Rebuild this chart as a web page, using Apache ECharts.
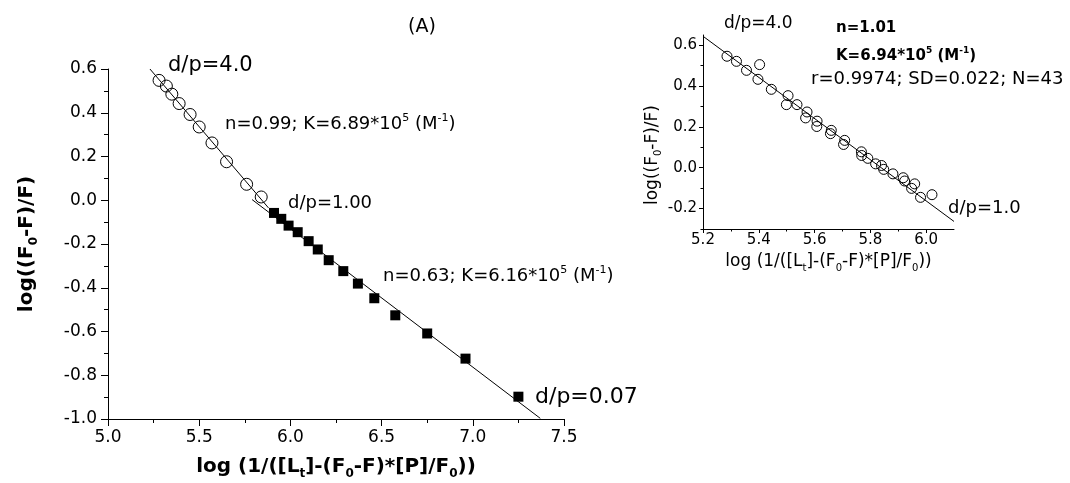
<!DOCTYPE html>
<html><head><meta charset="utf-8">
<script src="https://cdn.jsdelivr.net/npm/echarts@6/dist/echarts.min.js"></script>
<style>html,body{margin:0;padding:0;background:#fff}#c{width:1070px;height:483px}</style>
</head><body><div id="c"></div>
<script>
// ---------- main panel data ----------
const circX = [5.28, 5.32, 5.35, 5.39, 5.45, 5.50, 5.57, 5.65, 5.76, 5.84];
const circY = [0.548, 0.522, 0.485, 0.442, 0.392, 0.335, 0.262, 0.176, 0.073, 0.015];
const sqX = [5.91, 5.95, 5.99, 6.04, 6.10, 6.15, 6.21, 6.29, 6.37, 6.46, 6.575, 6.75, 6.96, 7.25];
const sqY = [-0.058, -0.085, -0.116, -0.146, -0.187, -0.225, -0.274, -0.324, -0.381, -0.448, -0.526, -0.609, -0.724, -0.898];
const fit1X = [5.23, 5.88];
const fit1Y = [0.60, -0.035];
const fit2X = [5.79, 7.37];
const fit2Y = [0.003, -0.997];
// ---------- inset data ----------
const inX = [5.286, 5.320, 5.356, 5.403, 5.397, 5.445, 5.505, 5.499, 5.537, 5.573, 5.568, 5.609, 5.608, 5.660, 5.657, 5.708, 5.704, 5.768, 5.769, 5.791, 5.819, 5.840, 5.848, 5.881, 5.918, 5.923, 5.959, 5.948, 5.980, 6.021];
const inY = [0.546, 0.521, 0.477, 0.505, 0.433, 0.384, 0.353, 0.309, 0.309, 0.273, 0.244, 0.228, 0.202, 0.183, 0.167, 0.134, 0.114, 0.078, 0.060, 0.046, 0.019, 0.011, -0.008, -0.030, -0.049, -0.065, -0.079, -0.101, -0.145, -0.132];
const fitInX = [5.2, 6.1];
const fitInY = [0.644, -0.263];
// ---------- tick labels ----------
const mainXTicks = [5.0, 5.5, 6.0, 6.5, 7.0, 7.5];
const mainYTicks = [-1.0, -0.8, -0.6, -0.4, -0.2, 0.0, 0.2, 0.4, 0.6];
const inXTicks = [5.2, 5.4, 5.6, 5.8, 6.0];
const inXMinor = [5.3, 5.5, 5.7, 5.9];
const inYTicks = [-0.2, 0.0, 0.2, 0.4, 0.6];
const inYMinor = [-0.3, -0.1, 0.1, 0.3, 0.5];

const zip = (a, b) => a.map((v, i) => [v, b[i]]);
const FF = 'DejaVu Sans';
const BLK = '#000';

const boldName = {
  b: {fontFamily: FF, fontSize: 20, fontWeight: 'bold', color: BLK, lineHeight: 26},
  s: {fontFamily: FF, fontSize: 12, fontWeight: 'bold', color: BLK, lineHeight: 12, verticalAlign: 'bottom'}
};
const regName = {
  r: {fontFamily: FF, fontSize: 17, color: BLK, lineHeight: 22},
  s: {fontFamily: FF, fontSize: 10, color: BLK, lineHeight: 10, verticalAlign: 'bottom'}
};
const xNameBold = '{b|log (1/([L}{s|t}{b|]-(F}{s|0}{b|-F)*[P]/F}{s|0}{b|))}';
const yNameBold = '{b|log((F}{s|0}{b|-F)/F)}';
const xNameReg = '{r|log (1/([L}{s|t}{r|]-(F}{s|0}{r|-F)*[P]/F}{s|0}{r|))}';
const yNameReg = '{r|log((F}{s|0}{r|-F)/F)}';

const axisBase = {
  type: 'value',
  splitLine: {show: false},
  minorSplitLine: {show: false},
  axisLine: {show: true, onZero: false, lineStyle: {color: BLK, width: 1}},
};

function txt(x, y, text, size, weight, rich) {
  return {
    type: 'text', x: x, y: y, silent: true,
    style: {
      text: text, fill: BLK, fontFamily: FF, fontSize: size, fontWeight: weight || 'normal',
      align: 'left', verticalAlign: 'middle', rich: rich || undefined
    }
  };
}
const supRich = (size, weight) => ({
  n: {fontFamily: FF, fontSize: size, fontWeight: weight, color: BLK, lineHeight: size + 4},
  sup: {fontFamily: FF, fontSize: Math.round(size * 0.6), fontWeight: weight, color: BLK, lineHeight: Math.round(size * 0.6), verticalAlign: 'top'}
});

const option = {
  animation: false,
  textStyle: {fontFamily: FF},
  grid: [
    {left: 108, top: 69, width: 456, height: 350, containLabel: false, outerBoundsMode: 'none'},
    {left: 703, top: 35, width: 251, height: 194, containLabel: false, outerBoundsMode: 'none'}
  ],
  xAxis: [
    Object.assign({}, axisBase, {
      gridIndex: 0, min: 5.0, max: 7.5, interval: 0.5,
      axisTick: {show: true, inside: false, length: 7, lineStyle: {color: BLK}},
      minorTick: {show: true, splitNumber: 2, length: 4, lineStyle: {color: BLK}},
      axisLabel: {show: true, color: BLK, fontSize: 17, fontFamily: FF, margin: 10,
        formatter: v => mainXTicks.some(t => Math.abs(t - v) < 1e-6) ? v.toFixed(1) : ''},
      name: xNameBold, nameLocation: 'middle', nameGap: 35,
      nameTextStyle: {rich: boldName}
    }),
    Object.assign({}, axisBase, {
      gridIndex: 1, min: 5.2, max: 6.1,
      axisTick: {show: true, inside: false, length: 4, customValues: inXTicks, lineStyle: {color: BLK}},
      axisLabel: {show: true, color: BLK, fontSize: 15, fontFamily: FF, margin: 4, customValues: inXTicks,
        formatter: v => v.toFixed(1)},
      name: xNameReg, nameLocation: 'middle', nameGap: 22,
      nameTextStyle: {rich: regName}
    }),
    Object.assign({}, axisBase, {
      gridIndex: 1, min: 5.2, max: 6.1, position: 'bottom', offset: 0,
      axisLine: {show: false, onZero: false},
      axisTick: {show: true, inside: false, length: 2.5, customValues: inXMinor, lineStyle: {color: BLK}},
      axisLabel: {show: false}
    })
  ],
  yAxis: [
    Object.assign({}, axisBase, {
      gridIndex: 0, min: -1.0, max: 0.6, interval: 0.2,
      axisTick: {show: true, inside: false, length: 7, lineStyle: {color: BLK}},
      minorTick: {show: true, splitNumber: 2, length: 4, lineStyle: {color: BLK}},
      axisLabel: {show: true, color: BLK, fontSize: 17, fontFamily: FF, margin: 11,
        formatter: v => mainYTicks.some(t => Math.abs(t - v) < 1e-6) ? v.toFixed(1) : ''},
      name: yNameBold, nameLocation: 'middle', nameGap: 68, nameRotate: 90,
      nameTextStyle: {rich: boldName}
    }),
    Object.assign({}, axisBase, {
      gridIndex: 1, min: -0.3, max: 0.65,
      axisTick: {show: true, inside: false, length: 4, customValues: inYTicks, lineStyle: {color: BLK}},
      axisLabel: {show: true, color: BLK, fontSize: 15, fontFamily: FF, margin: 6, customValues: inYTicks,
        formatter: v => v.toFixed(1)},
      name: yNameReg, nameLocation: 'middle', nameGap: 38, nameRotate: 90,
      nameTextStyle: {rich: regName, padding: [0, 46, 0, 0]}
    }),
    Object.assign({}, axisBase, {
      gridIndex: 1, min: -0.3, max: 0.65, position: 'left', offset: 0,
      axisLine: {show: false, onZero: false},
      axisTick: {show: true, inside: false, length: 2.5, customValues: inYMinor, lineStyle: {color: BLK}},
      axisLabel: {show: false}
    })
  ],
  series: [
    {type: 'line', xAxisIndex: 0, yAxisIndex: 0, data: zip(fit1X, fit1Y), showSymbol: false, symbol: 'none',
      lineStyle: {color: BLK, width: 1, opacity: 1}, z: 2},
    {type: 'line', xAxisIndex: 0, yAxisIndex: 0, data: zip(fit2X, fit2Y), showSymbol: false, symbol: 'none',
      lineStyle: {color: BLK, width: 1, opacity: 1}, z: 2},
    {type: 'scatter', xAxisIndex: 0, yAxisIndex: 0, data: zip(circX, circY), symbol: 'circle', symbolSize: 12,
      itemStyle: {color: 'rgba(0,0,0,0)', borderColor: BLK, borderWidth: 1, opacity: 1}, z: 3},
    {type: 'scatter', xAxisIndex: 0, yAxisIndex: 0, data: zip(sqX, sqY), symbol: 'rect', symbolSize: 10,
      itemStyle: {color: BLK, opacity: 1}, z: 3},
    {type: 'line', xAxisIndex: 1, yAxisIndex: 1, data: zip(fitInX, fitInY), showSymbol: false, symbol: 'none',
      lineStyle: {color: BLK, width: 1, opacity: 1}, z: 2},
    {type: 'scatter', xAxisIndex: 1, yAxisIndex: 1, data: zip(inX, inY), symbol: 'circle', symbolSize: 10,
      itemStyle: {color: 'rgba(0,0,0,0)', borderColor: BLK, borderWidth: 1, opacity: 1}, z: 3}
  ],
  graphic: [
    txt(408, 27, '(A)', 19),
    txt(168, 66, 'd/p=4.0', 21),
    txt(225, 124, '{n|n=0.99; K=6.89*10}{sup|5}{n| (M}{sup|-1}{n|)}', 18, 'normal', supRich(18, 'normal')),
    txt(288, 203, 'd/p=1.00', 18),
    txt(383, 276, '{n|n=0.63; K=6.16*10}{sup|5}{n| (M}{sup|-1}{n|)}', 18, 'normal', supRich(18, 'normal')),
    txt(535, 397, 'd/p=0.07', 22),
    txt(724, 24, 'd/p=4.0', 17),
    txt(836, 28, 'n=1.01', 15, 'bold'),
    txt(836, 56, '{n|K=6.94*10}{sup|5}{n| (M}{sup|-1}{n|)}', 15, 'bold', supRich(15, 'bold')),
    txt(811, 79, 'r=0.9974; SD=0.022; N=43', 18),
    txt(948, 208, 'd/p=1.0', 18)
  ]
};
echarts.init(document.getElementById('c')).setOption(option);
</script></body></html>
